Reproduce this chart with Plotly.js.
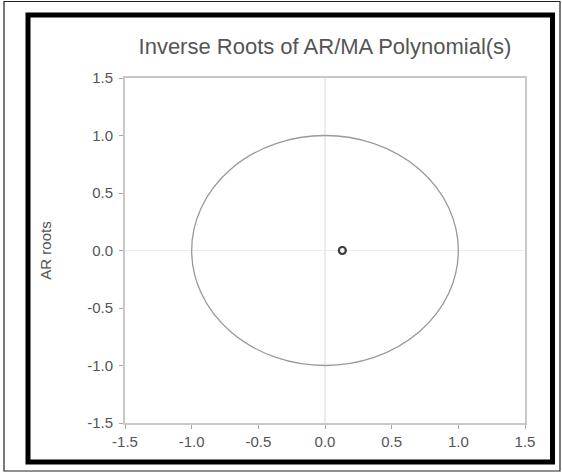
<!DOCTYPE html>
<html>
<head>
<meta charset="utf-8">
<script src="https://cdn.plot.ly/plotly-3.0.1.min.js"></script>
<style>html,body{margin:0;padding:0;background:#fff;}#chart{width:562px;height:475px;}</style>
</head>
<body>
<div id="chart"></div>
<script>
// Data
const arRootsReal = [0.13];
const arRootsImag = [0.0];
const unitCircleRadius = 1;
const tickVals = [-1.5, -1.0, -0.5, 0.0, 0.5, 1.0, 1.5];
const tickText = ["-1.5", "-1.0", "-0.5", "0.0", "0.5", "1.0", "1.5"];

// pixel -> paper helpers for decorative frame
const L = 125, R = 37, T = 78, B = 52, W = 562, H = 475;
const pw = W - L - R, ph = H - T - B;
const px = v => (v - L) / pw;
const py = v => (H - B - v) / ph;
const FONT = 'Liberation Sans, Arial, sans-serif';

const trace = {
  x: arRootsReal, y: arRootsImag, type: 'scatter', mode: 'markers',
  marker: {symbol: 'circle-open', size: 7, color: '#3a3a3a', line: {width: 2.2, color: '#3a3a3a'}},
  hoverinfo: 'x+y'
};

const axisCommon = {
  range: [-1.5, 1.5], tickvals: tickVals, ticktext: tickText,
  ticks: 'outside', ticklen: 4, tickwidth: 1, tickcolor: '#aaa',
  showline: true, linecolor: '#c8c8c8', linewidth: 2, mirror: true,
  showgrid: false, zeroline: true, zerolinecolor: '#ececec', zerolinewidth: 1.5,
  tickfont: {family: FONT, size: 15, color: '#555'}
};

const layout = {
  width: W, height: H,
  margin: {l: L, r: R, t: T, b: B},
  paper_bgcolor: '#fff', plot_bgcolor: '#fff',
  showlegend: false,
  title: {text: 'Inverse Roots of AR/MA Polynomial(s)', x: 0.5, xref: 'paper', y: 1 - 46 / H, yref: 'container', yanchor: 'middle',
          font: {family: FONT, size: 22, color: '#555'}},
  xaxis: Object.assign({}, axisCommon),
  yaxis: Object.assign({}, axisCommon, {
    ticklabelstandoff: 3,
    title: {text: 'AR roots', standoff: 32, font: {family: FONT, size: 15, color: '#555'}}
  }),
  shapes: [
    {type: 'circle', xref: 'x', yref: 'y', x0: -unitCircleRadius, x1: unitCircleRadius, y0: -unitCircleRadius, y1: unitCircleRadius,
     line: {color: '#999', width: 1.3}, layer: 'above'},
    {type: 'rect', xref: 'paper', yref: 'paper', x0: px(28), x1: px(552.5), y0: py(462), y1: py(15),
     line: {color: '#000', width: 5}},
    {type: 'rect', xref: 'paper', yref: 'paper', x0: px(4), x1: px(560), y0: py(471), y1: py(1.5),
     line: {color: '#222', width: 1.2}}
  ]
};

Plotly.newPlot('chart', [trace], layout, {displayModeBar: false, staticPlot: true});
</script>
</body>
</html>
